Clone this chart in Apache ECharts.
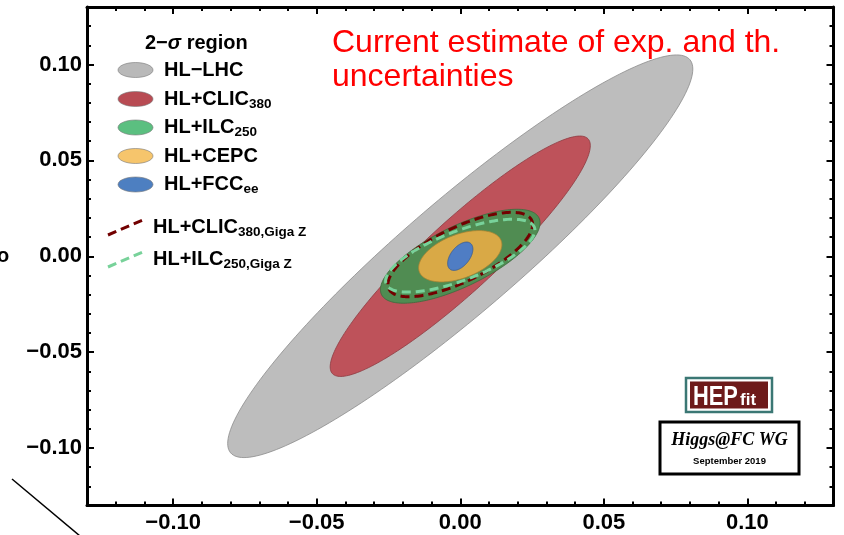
<!DOCTYPE html>
<html>
<head>
<meta charset="utf-8">
<script src="https://cdn.jsdelivr.net/npm/echarts@6/dist/echarts.min.js"></script>
<style>
  html, body { margin: 0; padding: 0; background: #fff; }
  #myChart { width: 844px; height: 535px; }
</style>
</head>
<body>
<div id="myChart"></div>
<script>
// 2-sigma regions: centre, half extent along x / y, correlation
var regionNames = ['HL−LHC', 'HL+CLIC380', 'HL+ILC250', 'HL+CEPC', 'HL+FCCee']
var regionCx = [0, 0, 0, 0, 0]
var regionCy = [0, 0, 0, 0, 0]
var regionSx = [0.081, 0.0453, 0.0278, 0.0145, 0.0044]
var regionSy = [0.105, 0.0627, 0.0245, 0.0134, 0.0074]
var regionRho = [0.93, 0.92, 0.71, 0.45, 0.5]

// Giga Z contours (dashed)
var gigaZNames = ['HL+CLIC380,Giga Z', 'HL+ILC250,Giga Z']
var gigaZCx = [0, 0]
var gigaZCy = [0.0009, 0.0003]
var gigaZSx = [0.0252, 0.026]
var gigaZSy = [0.022, 0.019]
var gigaZRho = [0.71, 0.7]

// legend texts (main part + subscript)
var legendMain = ['HL−LHC', 'HL+CLIC', 'HL+ILC', 'HL+CEPC', 'HL+FCC']
var legendSub = ['', '380', '250', '', 'ee']
var gigaZMain = ['HL+CLIC', 'HL+ILC']
var gigaZSub = ['380,Giga Z', '250,Giga Z']

// frame ticks
var majorTicks = [-0.10, -0.05, 0.00, 0.05, 0.10]
var minorTicks = [-0.12, -0.11, -0.09, -0.08, -0.07, -0.06, -0.04, -0.03, -0.02, -0.01,
  0.01, 0.02, 0.03, 0.04, 0.06, 0.07, 0.08, 0.09, 0.11, 0.12]

var fillColors = ['#bdbdbd', '#be525a', '#508c52', '#d9a946', '#4f7dc4']
var strokeColors = ['#8c8c8c', '#8e3a40', '#3a6a3c', '#a88332', '#36598f']
var legendColors = ['#b9b9b9', '#b84b53', '#5bbf80', '#f6c56c', '#4d7fc1']
var dashColors = ['#720000', '#78d29a']

var sans = '"Liberation Sans", Arial, sans-serif'
var serif = '"Liberation Serif", "Times New Roman", serif'

function tickLabel (v) {
  if (Math.abs(v) < 1e-9) return '0.00'
  return (v < 0 ? '−' : '') + Math.abs(v).toFixed(2)
}

function frameAxis (pos, gridIndex, ticks, len, withLabels) {
  return {
    type: 'value',
    gridIndex: gridIndex,
    position: pos,
    min: -0.13,
    max: 0.13,
    axisLine: { show: gridIndex === 0, onZero: false, lineStyle: { color: '#000', width: 3 } },
    axisTick: { show: true, inside: true, length: len, customValues: ticks, lineStyle: { color: '#000', width: 2 } },
    axisLabel: withLabels ? {
      show: true,
      customValues: majorTicks,
      formatter: tickLabel,
      color: '#000',
      fontSize: 22,
      fontWeight: 'bold',
      fontFamily: sans,
      margin: pos === 'left' ? 5 : 6
    } : { show: false },
    splitLine: { show: false }
  }
}

function ellipseSeries (name, cx, cy, sx, sy, rho, style) {
  return {
    name: name,
    type: 'custom',
    xAxisIndex: 0,
    yAxisIndex: 0,
    silent: true,
    animation: false,
    data: [[cx, cy, sx, sy, rho]],
    encode: { x: 0, y: 1 },
    renderItem: function (params, api) {
      var x0 = api.value(0)
      var y0 = api.value(1)
      var ax = api.value(2)
      var ay = api.value(3)
      var r = api.value(4)
      var s = Math.sqrt(1 - r * r)
      var pts = []
      for (var k = 0; k < 200; k++) {
        var t = 2 * Math.PI * k / 200
        pts.push(api.coord([x0 + ax * Math.cos(t), y0 + ay * (r * Math.cos(t) + s * Math.sin(t))]))
      }
      return { type: 'polygon', shape: { points: pts }, style: style }
    }
  }
}

var series = []
regionNames.forEach(function (n, i) {
  series.push(ellipseSeries(n, regionCx[i], regionCy[i], regionSx[i], regionSy[i], regionRho[i],
    { fill: fillColors[i], stroke: strokeColors[i], lineWidth: 0.8 }))
})
gigaZNames.forEach(function (n, i) {
  series.push(ellipseSeries(n, gigaZCx[i], gigaZCy[i], gigaZSx[i], gigaZSy[i], gigaZRho[i],
    { fill: 'none', stroke: dashColors[i], lineWidth: 3, lineDash: [9, 5] }))
})

var richStyle = {
  m: { fontSize: 20, fontWeight: 'bold', fontFamily: sans, color: '#000', lineHeight: 24 },
  s: { fontSize: 13.5, fontWeight: 'bold', fontFamily: sans, color: '#000', lineHeight: 14, verticalAlign: 'bottom' },
  g: { fontSize: 20, fontWeight: 'bold', fontStyle: 'italic', fontFamily: sans, color: '#000', lineHeight: 24 }
}

function label (x, y, main, sub) {
  return {
    type: 'text',
    x: x,
    y: y,
    z: 100,
    style: {
      text: '{m|' + main + '}' + (sub ? '{s|' + sub + '}' : ''),
      rich: richStyle,
      verticalAlign: 'middle'
    }
  }
}

var graphics = []
graphics.push({
  type: 'text', x: 145, y: 43, z: 100,
  style: { text: '{m|2−}{g|σ}{m| region}', rich: richStyle, verticalAlign: 'middle' }
})
var rowY = [70, 99, 127.5, 156, 184.5]
legendMain.forEach(function (t, i) {
  graphics.push({
    type: 'ellipse', z: 100,
    shape: { cx: 135.5, cy: rowY[i], rx: 17.5, ry: 7.5 },
    style: { fill: legendColors[i], stroke: '#777', lineWidth: 0.6 }
  })
  graphics.push(label(164, rowY[i], t, legendSub[i]))
})
var dashRowY = [227.5, 259.5]
gigaZMain.forEach(function (t, i) {
  graphics.push({
    type: 'line', z: 100,
    shape: { x1: 108, y1: dashRowY[i] + 7.5, x2: 143, y2: dashRowY[i] - 7.5 },
    style: { stroke: dashColors[i], lineWidth: 3, lineDash: [9, 5] }
  })
  graphics.push(label(153, dashRowY[i], t, gigaZSub[i]))
})

// HEPfit logo
graphics.push({ type: 'rect', z: 100, shape: { x: 686, y: 378, width: 86, height: 34 }, style: { fill: '#fff', stroke: '#3b7774', lineWidth: 2.5 } })
graphics.push({ type: 'rect', z: 100, shape: { x: 690, y: 381.5, width: 78, height: 27 }, style: { fill: '#6d1a1a' } })
graphics.push({ type: 'text', z: 101, x: 693, y: 411, scaleX: 0.78, style: { text: 'HEP', fill: '#fff', font: 'bold 28px ' + sans, verticalAlign: 'bottom' } })
graphics.push({ type: 'text', z: 101, x: 740, y: 409, style: { text: 'fit', fill: '#fff', font: 'bold 17px ' + sans, verticalAlign: 'bottom' } })

// Higgs@FC WG box
graphics.push({ type: 'rect', z: 100, shape: { x: 660, y: 422, width: 139, height: 52 }, style: { fill: '#fff', stroke: '#000', lineWidth: 3 } })
graphics.push({ type: 'text', z: 101, x: 729.5, y: 440, style: { text: 'Higgs@FC WG', fill: '#000', font: 'italic bold 18px ' + serif, align: 'center', verticalAlign: 'middle' } })
graphics.push({ type: 'text', z: 101, x: 729.5, y: 461, style: { text: 'September 2019', fill: '#000', font: 'bold 9.5px ' + sans, align: 'center', verticalAlign: 'middle' } })

// cut-off pieces at the left edge
graphics.push({ type: 'text', z: 100, x: -3, y: 256, style: { text: 'o', fill: '#000', font: 'bold 20px ' + sans, verticalAlign: 'middle' } })
graphics.push({ type: 'line', z: 100, shape: { x1: 12, y1: 479, x2: 80, y2: 536 }, style: { stroke: '#000', lineWidth: 1.5 } })

var rect = { left: 87, right: 10.5, top: 7, bottom: 29.5 }

var myChart = echarts.init(document.getElementById('myChart'))
var option = {
  backgroundColor: '#fff',
  animation: false,
  title: {
    text: 'Current estimate of exp. and th.\nuncertainties',
    left: 327,
    top: 21,
    textStyle: { color: '#ff0000', fontSize: 32, fontWeight: 'normal', fontFamily: sans, lineHeight: 34 }
  },
  grid: [Object.assign({}, rect), Object.assign({}, rect)],
  xAxis: [
    frameAxis('bottom', 0, majorTicks, 7, true),
    frameAxis('top', 0, majorTicks, 7, false),
    frameAxis('bottom', 1, minorTicks, 4, false),
    frameAxis('top', 1, minorTicks, 4, false)
  ],
  yAxis: [
    frameAxis('left', 0, majorTicks, 7, true),
    frameAxis('right', 0, majorTicks, 7, false),
    frameAxis('left', 1, minorTicks, 4, false),
    frameAxis('right', 1, minorTicks, 4, false)
  ],
  graphic: graphics,
  series: series
}
myChart.setOption(option)
</script>
</body>
</html>
